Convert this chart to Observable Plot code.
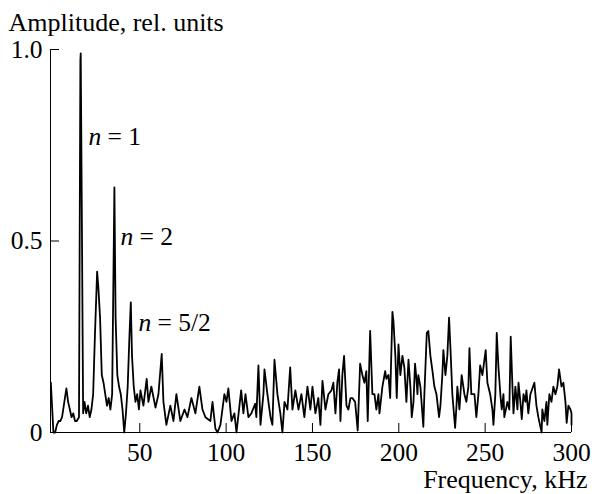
<!DOCTYPE html>
<html><head><meta charset="utf-8">
<script src="https://cdn.jsdelivr.net/npm/d3@7"></script>
<script src="https://cdn.jsdelivr.net/npm/@observablehq/plot@0.6"></script>
<style>html,body{margin:0;padding:0;background:#fff} svg{display:block} svg text{font-family:"Liberation Serif","Times New Roman",Times,serif !important;}</style>
</head><body><div id="chart"></div>
<script>
// [frequency (kHz), amplitude (rel. units)]
const spectrum = [
[-1.5,0.13],[0,0.0],[1,0.0],[2,0.02],[3,0.03],[4,0.03],[5,0.04],[6,0.07],[7.5,0.115],[8.5,0.08],[9.5,0.06],
[10.5,0.04],[11.5,0.05],[12.5,0.03],[13.5,0.03],[14.8,0.04],[15.6,0.97],[15.8,0.99],[16.4,0.6],[17.2,0.05],[18,0.08],
[19,0.05],[20,0.07],[21,0.04],[22,0.06],[23,0.1],[24,0.25],[25.3,0.42],[26,0.38],[27,0.3],[28,0.15],
[29,0.13],[30,0.1],[31,0.07],[32,0.09],[33,0.06],[34,0.1],[35.3,0.64],[36,0.3],[37,0.15],[38,0.12],
[39,0.1],[40,0.06],[41,0.0],[42,0.05],[43,0.12],[44,0.25],[44.8,0.34],[45.5,0.2],[46.5,0.12],[47.5,0.08],
[48.5,0.1],[49.5,0.06],[50.4,0.11],[52.1,0.07],[54,0.14],[55,0.08],[56.7,0.12],[59.1,0.065],[60.8,0.1],[62.7,0.205],
[63.7,0.08],[65.4,0.02],[67.7,0.07],[69.5,0.03],[71.2,0.1],[73.5,0.03],[75.9,0.06],[77.6,0.04],[79.9,0.09],[82.2,0.05],
[84.5,0.12],[86.3,0.06],[88,0.04],[90.9,0.03],[92.1,0.08],[93.8,0.01],[95,0.0],[96.7,0.02],[99,0.1],[100.2,0.08],
[101.3,0.115],[103.1,0.03],[104.8,0.05],[106,0.0],[108.7,0.11],[110,0.05],[111.2,0.1],[112.9,0.04],[114.6,0.05],[116.8,0.075],
[117.5,0.04],[118.7,0.175],[119.9,0.02],[121.6,0.1],[122.2,0.165],[123.9,0.1],[125.7,0.04],[126.8,0.02],[128,0.19],[129.7,0.1],
[131.4,0.05],[132.6,0.0],[133.8,0.08],[135.5,0.06],[137.1,0.17],[138.4,0.06],[140.1,0.11],[141.9,0.06],[143.6,0.1],[145.3,0.04],
[147.1,0.12],[148.8,0.06],[150,0.12],[151.7,0.05],[153.4,0.09],[154.6,0.02],[155.8,0.135],[157.5,0.06],[159.2,0.1],[161,0.11],
[162.1,0.13],[163.3,0.05],[164.4,0.13],[165.4,0.165],[166.2,0.03],[167.3,0.15],[168.3,0.2],[169.7,0.07],[170.8,0.06],[172,0.09],
[173.1,0.09],[174.7,0.08],[176.2,0.005],[177.6,0.18],[178.9,0.15],[180.1,0.13],[181.2,0.16],[182,0.03],[183.4,0.265],[184.7,0.1],
[185.9,0.1],[187,0.06],[188.2,0.1],[188.8,0.05],[190.5,0.12],[192.1,0.16],[192.8,0.14],[194,0.15],[195,0.09],[196.3,0.315],
[196.9,0.29],[198,0.2],[198.8,0.09],[199.8,0.23],[200.9,0.15],[202.1,0.2],[203.2,0.17],[204.4,0.08],[205.6,0.19],[206.7,0.12],
[207.5,0.04],[208.5,0.08],[209.4,0.18],[210.2,0.14],[210.8,0.1],[211.3,0.15],[212.5,0.12],[214.2,0.015],[214.8,0.1],[216.2,0.26],
[217.1,0.265],[218.3,0.2],[219.5,0.16],[220.6,0.12],[221.8,0.1],[223.3,0.04],[224.1,0.07],[225.2,0.15],[225.8,0.215],[227,0.15],
[228.1,0.2],[229.1,0.3],[229.9,0.22],[231,0.1],[232.6,0.012],[233.4,0.07],[233.9,0.12],[235.1,0.06],[236.4,0.15],[238,0.1],
[239.1,0.08],[240.3,0.12],[240.9,0.22],[242,0.1],[243.8,0.1],[244.9,0.04],[246.1,0.1],[247.1,0.175],[248.4,0.15],[250.3,0.215],
[251.3,0.13],[252.9,0.1],[254.2,0.06],[254.8,0.02],[255.9,0.1],[256.7,0.26],[257.7,0.17],[258.8,0.1],[259.6,0.06],[260.6,0.1],
[261.1,0.04],[262.9,0.08],[264,0.06],[264.8,0.25],[265.8,0.12],[266.4,0.05],[267.5,0.12],[268.7,0.06],[269.3,0.13],[270.4,0.08],
[271.2,0.035],[272.2,0.1],[273.3,0.08],[273.9,0.11],[275,0.05],[276.2,0.1],[278.5,0.13],[279.7,0.07],[280.8,0.04],[282.7,0.0],
[283.1,0.06],[284.3,0.03],[285.5,0.08],[286,0.02],[287.2,0.1],[288.4,0.08],[289.5,0.12],[290.7,0.1],[291.8,0.12],[292.8,0.165],
[294.2,0.12],[295.3,0.13],[296.5,0.08],[297.2,0.025],[298.2,0.07],[299.4,0.06],[300,0.05],[300,0.02]
];
const xDomain = [-1.7, 300];
const yDomain = [0, 1];
const xTicks = [50, 100, 150, 200, 250, 300];
const yTicks = [0, 0.5, 1];
const yTickLabels = ["0", "0.5", "1.0"];
const peakLabels = [
  {f: 20.3, a: 0.75, n: "n", rest: "= 1"},
  {f: 38.8, a: 0.49, n: "n", rest: "= 2"},
  {f: 49.2, a: 0.266, n: "n", rest: "= 5/2"}
];
const yTitle = "Amplitude, rel. units";
const xTitle = "Frequency, kHz";

const font = "Liberation Serif";
const fs = 25.5;
const chart = Plot.plot({
  width: 592, height: 494,
  marginLeft: 50, marginRight: 21, marginTop: 49, marginBottom: 62,
  style: {fontFamily: font, fontSize: fs + "px", color: "#000", background: "#fff"},
  x: {domain: xDomain},
  y: {domain: yDomain},
  marks: [
    Plot.axisX({ticks: xTicks, tickSize: -9, tickPadding: 19, label: null, fontFamily: font, fontSize: fs}),
    Plot.axisY({ticks: yTicks, tickFormat: d => yTickLabels[yTicks.indexOf(d)], tickSize: -9, tickPadding: 17, label: null, fontFamily: font, fontSize: fs}),
    Plot.ruleX([xDomain[0]], {stroke: "#000"}),
    Plot.ruleY([yDomain[0]], {stroke: "#000"}),
    Plot.line(spectrum, {x: d => d[0], y: d => d[1], stroke: "#000", strokeWidth: 1.8}),
    Plot.text(peakLabels, {x: "f", y: "a", text: "n", fontStyle: "italic", textAnchor: "start", lineAnchor: "bottom", fontFamily: font, fontSize: fs}),
    Plot.text(peakLabels, {x: "f", y: "a", text: "rest", dx: 19, textAnchor: "start", lineAnchor: "bottom", fontFamily: font, fontSize: fs}),
    Plot.text([yTitle], {text: d => d, frameAnchor: "top-left", dx: -42, dy: -19, textAnchor: "start", lineAnchor: "bottom", fontFamily: font, fontSize: 26}),
    Plot.text([xTitle], {text: d => d, frameAnchor: "bottom-right", dx: 16, dy: 55, textAnchor: "end", lineAnchor: "bottom", fontFamily: font, fontSize: 26})
  ]
});
document.getElementById("chart").appendChild(chart);
</script>
</body></html>
